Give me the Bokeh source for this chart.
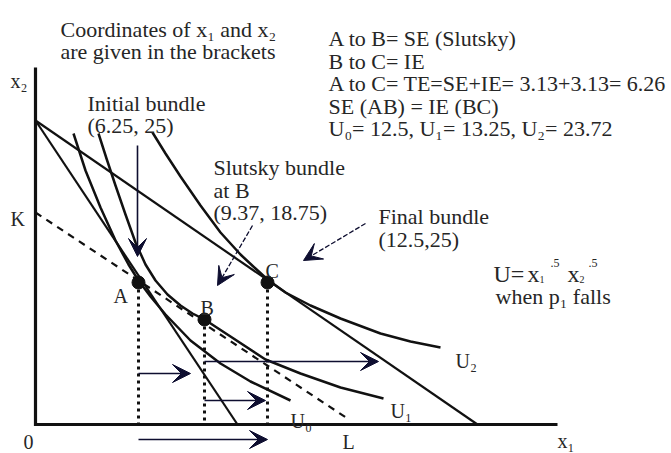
from bokeh.plotting import figure
from bokeh.models import Range1d, ColumnDataSource, Arrow, VeeHead
from bokeh.embed import file_html
from bokeh.resources import INLINE
from bokeh.core.properties import value

# ---- sketch coordinates (x right, y downward) ----
axis_x = [35, 35, 557]
axis_y = [67, 424, 424]

budget_old_x = [35, 237]          # original budget line (before p1 falls)
budget_old_y = [120, 424]
budget_new_x = [35, 477]          # new budget line (after p1 falls)
budget_new_y = [120, 424]
comp_x = [35, 347]                # Slutsky compensated line K-L
comp_y = [212, 418]

u0_x = [73, 85, 100, 115, 128, 138, 150, 165, 190, 220, 250, 290]
u0_y = [133, 170, 207, 240, 264, 280, 296, 314, 340, 363, 381, 400]
u1_x = [98, 106, 115, 125, 135, 145, 155, 167, 180, 192, 204, 230, 265, 300, 340, 383]
u1_y = [133, 158, 185, 214, 242, 264, 280, 294, 305, 313, 319, 336, 359, 373, 387, 398]
u2_x = [152, 165, 180, 200, 220, 240, 255, 267, 285, 310, 340, 380, 410, 440]
u2_y = [132, 153, 176, 205, 232, 254, 268, 279, 292, 305, 318, 333, 341, 347]

bundle_names = ["A", "B", "C"]
bundle_x = [138, 204, 267]
bundle_y = [282, 319, 282]
axis_base = [424, 424, 424]

# arrows: start/end
arrow_x0 = [138, 204, 138, 204, 137]
arrow_y0 = [373, 400, 439, 361, 145]
arrow_x1 = [190, 265, 267, 378, 137]
arrow_y1 = [373, 400, 439, 361, 256]
dash_arrow_x0 = [252, 365]
dash_arrow_y0 = [225, 223]
dash_arrow_x1 = [217, 303]
dash_arrow_y1 = [285, 260]

label_text = [
    "Coordinates of x\u2081 and x\u2082", "are given in the brackets",
    "A to B= SE (Slutsky)", "B to C= IE", "A to C= TE=SE+IE= 3.13+3.13= 6.26",
    "SE (AB) = IE (BC)", "U\u2080= 12.5, U\u2081= 13.25, U\u2082= 23.72",
    "Initial bundle", "(6.25, 25)",
    "Slutsky bundle", "at B", "(9.37, 18.75)",
    "Final bundle", "(12.5,25)",
    "when p\u2081 falls",
]
label_x = [60, 60, 328, 328, 328, 328, 328, 87, 87, 213, 213, 213, 378, 378, 495]
label_y = [29, 51, 38, 61, 83, 106, 128, 103, 125, 167, 190, 212, 216, 239, 296]

mark_text = ["x\u2082", "K", "A", "B", "C", "0", "L", "x\u2081", "U\u2080", "U\u2081", "U\u2082"]
mark_x = [10, 10, 113, 200, 265, 23, 342, 557, 290, 390, 455]
mark_y = [80, 218, 295, 307, 270, 441, 441, 440, 420, 410, 360]

util_text = ["U=", "x", "1", ".5", "x", "2", ".5"]
util_x = [493, 527, 539, 550, 567, 579, 588]
util_y = [273, 273, 279, 262, 273, 279, 262]
util_size = ["24px", "24px", "10px", "12px", "24px", "10px", "12px"]

INK = "#111111"
NAVY = "#0e0e30"
TXT = "#262626"
FONT = value("'Liberation Serif', 'Times New Roman', serif")

p = figure(width=671, height=453, output_backend="svg", toolbar_location=None,
           x_range=Range1d(0, 671), y_range=Range1d(453, 0),
           min_border=0, x_axis_location=None, y_axis_location=None,
           outline_line_color=None, background_fill_color="white",
           border_fill_color="white")
p.grid.visible = False

# axes
p.line(axis_x, axis_y, line_width=3.2, color=INK, line_join="miter")
# budget lines
p.line(budget_old_x, budget_old_y, line_width=2.2, color=INK)
p.line(budget_new_x, budget_new_y, line_width=2.2, color=INK)
p.line(comp_x, comp_y, line_width=2.2, color=INK, line_dash="7 6")
# indifference curves
for cx, cy in ((u0_x, u0_y), (u1_x, u1_y), (u2_x, u2_y)):
    p.line(cx, cy, line_width=2.5, color=INK, line_join="round")
# dotted drops
p.segment(x0=bundle_x, y0=bundle_y, x1=bundle_x, y1=axis_base,
          line_width=3, color=INK, line_dash="3 4")
# bundles
p.scatter(bundle_x, bundle_y, size=13, color=INK)

# arrows
src = ColumnDataSource(dict(x0=arrow_x0, y0=arrow_y0, x1=arrow_x1, y1=arrow_y1))
p.add_layout(Arrow(end=VeeHead(size=18, fill_color=NAVY, line_color=NAVY),
                   x_start="x0", y_start="y0", x_end="x1", y_end="y1",
                   source=src, line_color=NAVY, line_width=1.6))
dsrc = ColumnDataSource(dict(x0=dash_arrow_x0, y0=dash_arrow_y0,
                             x1=dash_arrow_x1, y1=dash_arrow_y1))
p.add_layout(Arrow(end=VeeHead(size=18, fill_color=NAVY, line_color=NAVY),
                   x_start="x0", y_start="y0", x_end="x1", y_end="y1",
                   source=dsrc, line_color=NAVY, line_width=1.3, line_dash="5 2"))

# texts
p.text(x=label_x, y=label_y, text=label_text, text_font=FONT,
       text_font_size="22px", text_color=TXT, text_baseline="alphabetic")
p.text(x=mark_x, y=mark_y, text=mark_text, text_font=FONT,
       text_font_size="20px", text_color=TXT, text_baseline="alphabetic")
p.text(x=util_x, y=util_y, text=util_text, text_font=FONT,
       text_font_size=util_size, text_color=TXT, text_baseline="alphabetic")

open("out.html", "w").write(file_html(p, INLINE))
